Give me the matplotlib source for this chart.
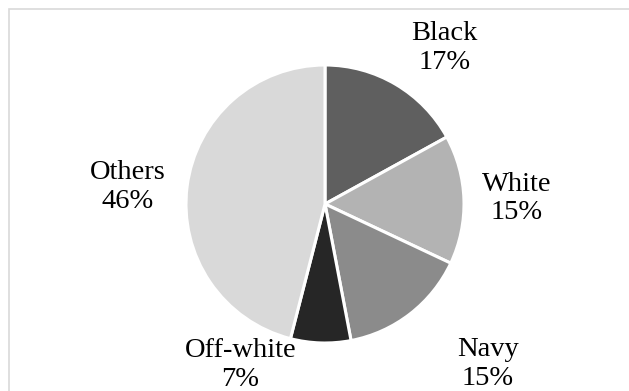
import matplotlib
matplotlib.use("Agg")
import matplotlib.pyplot as plt
from matplotlib.patches import Rectangle

categories = ["Black", "White", "Navy", "Off-white", "Others"]
values = [17, 15, 15, 7, 46]
colors = ["#5f5f5f", "#b3b3b3", "#8b8b8b", "#262626", "#d9d9d9"]
label_pos = [(0.86, 1.12), (1.38, 0.04), (1.17, -1.15), (-0.61, -1.16), (-1.42, 0.12)]

W, H = 629, 391
fig = plt.figure(figsize=(W / 100, H / 100), dpi=100)
cx, cy, r = 325, 391 - 204, 139
ax = fig.add_axes([0, 0, 1, 1])
ax.pie(values, colors=colors, startangle=90, counterclock=False, radius=1,
       wedgeprops=dict(edgecolor="white", linewidth=2.2))
ax.set_xlim(-cx / r, (W - cx) / r)
ax.set_ylim(-cy / r, (H - cy) / r)
ax.set_aspect("auto")
ax.axis("off")

for cat, v, (x, y) in zip(categories, values, label_pos):
    ax.text(x, y, f"{cat}\n{v}%", ha="center", va="center", fontsize=20.5,
            family="Liberation Serif", linespacing=1.2, color="#000000")

fig.patches.append(Rectangle((9 / W, -0.05), 1.1, 1 - 9 / H + 0.05, transform=fig.transFigure,
                             fill=False, edgecolor="#d9d9d9", linewidth=1.2))
fig.savefig("out.png", dpi=100)
